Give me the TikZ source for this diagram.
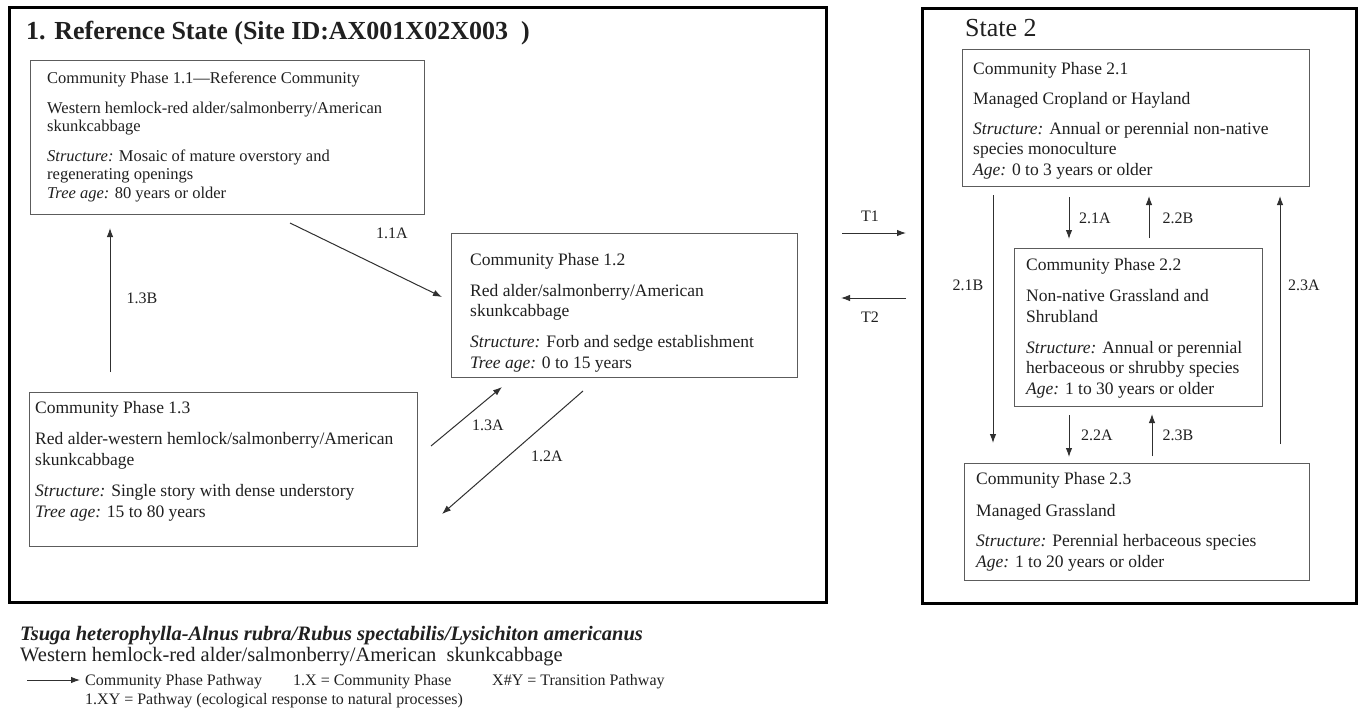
\documentclass[tikz,border=0pt]{standalone}
\usepackage{fontspec}
\setmainfont{Liberation Serif}
\usepackage{tikz}
\usetikzlibrary{positioning, arrows.meta, calc}

\definecolor{framegray}{HTML}{5C5C5C}
\definecolor{inkgray}{HTML}{202020}
\definecolor{arrowgray}{HTML}{303030}

\newcommand{\boxfont}{\fontsize{17.5}{20.5}\selectfont}
\newcommand{\titlefont}{\fontsize{26}{30}\selectfont}
\newcommand{\keyfont}{\fontsize{20.5}{21}\selectfont}
\newcommand{\legendfont}{\fontsize{16}{19}\selectfont}

\begin{document}
\begin{tikzpicture}[
    x=1pt, y=-1pt,
    statebox/.style={draw=black, line width=3pt, anchor=north west, inner sep=0pt},
    phase/.style 2 args={draw=framegray, line width=1.3pt, anchor=north west,
        inner sep=0pt, minimum width=#1, minimum height=#2},
    phasetext/.style={anchor=base west, inner sep=0pt, align=left,
        font=\boxfont, text=inkgray},
    pathway/.style={-{Latex[length=9pt,width=6.5pt]}, line width=1pt, draw=arrowgray},
    lbl/.style={font=\fontsize{16}{18}\selectfont, text=inkgray, inner sep=0pt}
]
    \useasboundingbox[fill=white] (0,0) rectangle (1358,717);

    % State frames
    \node[statebox, minimum width=817pt, minimum height=595pt] (s1) at (8,6) {};
    \node[statebox, minimum width=434pt, minimum height=595pt] (s2) at (921,7) {};
    \node[anchor=base west, inner sep=0pt, font=\titlefont\bfseries, text=inkgray]
        (s1title) at (26,40) {1. Reference State (Site ID:AX001X02X003~~)};
    \node[anchor=base west, inner sep=0pt, font=\titlefont, text=inkgray]
        (s2title) at (965,37) {State 2};

    % Community phases, state 1 (text placed by its last baseline)
    \node[phase={394pt}{154pt}] (p11) at (30,60) {};
    \node[phasetext, font=\fontsize{16.5}{18.5}\selectfont] (p11t) at (47,198)
        {Community Phase 1.1—Reference Community\\[11pt]
         Western hemlock-red alder/salmonberry/American\\
         skunkcabbage\\[11pt]
         \textit{Structure:} Mosaic of mature overstory and\\
         regenerating openings\\
         \textit{Tree age:} 80 years or older};

    \node[phase={346pt}{144pt}] (p12) at (451,233) {};
    \node[phasetext] (p12t) at (470,368)
        {Community Phase 1.2\\[10.5pt]
         Red alder/salmonberry/American\\
         skunkcabbage\\[10.5pt]
         \textit{Structure:} Forb and sedge establishment\\
         \textit{Tree age:} 0 to 15 years};

    \node[phase={388pt}{154pt}] (p13) at (29,392) {};
    \node[phasetext] (p13t) at (35,517)
        {Community Phase 1.3\\[11pt]
         Red alder-western hemlock/salmonberry/American\\
         skunkcabbage\\[11pt]
         \textit{Structure:} Single story with dense understory\\
         \textit{Tree age:} 15 to 80 years};

    % Community phases, state 2
    \node[phase={347pt}{137pt}] (p21) at (962,49) {};
    \node[phasetext] (p21t) at (973,175)
        {Community Phase 2.1\\[9.5pt]
         Managed Cropland or Hayland\\[9.5pt]
         \textit{Structure:} Annual or perennial non-native\\
         species monoculture\\
         \textit{Age:} 0 to 3 years or older};

    \node[phase={248pt}{158pt}] (p22) at (1014,248) {};
    \node[phasetext] (p22t) at (1026,394)
        {Community Phase 2.2\\[10.5pt]
         Non-native Grassland and\\
         Shrubland\\[10.5pt]
         \textit{Structure:} Annual or perennial\\
         herbaceous or shrubby species\\
         \textit{Age:} 1 to 30 years or older};

    \node[phase={345pt}{117pt}] (p23) at (964,463) {};
    \node[phasetext] (p23t) at (976,567)
        {Community Phase 2.3\\[11pt]
         Managed Grassland\\[10pt]
         \textit{Structure:} Perennial herbaceous species\\
         \textit{Age:} 1 to 20 years or older};

    % Arrow ends
    \coordinate (a11a-s) at (290,223);  \coordinate (a11a-e) at (442,297);
    \coordinate (a13b-s) at (110,372);  \coordinate (a13b-e) at (110,228);
    \coordinate (a13a-s) at (431,446);  \coordinate (a13a-e) at (502,387);
    \coordinate (a12a-s) at (583,391);  \coordinate (a12a-e) at (442,514);
    \coordinate (t1-s) at (842,233);    \coordinate (t1-e) at (906,233);
    \coordinate (t2-s) at (906,298);    \coordinate (t2-e) at (841,298);
    \coordinate (a21a-s) at (1069,197); \coordinate (a21a-e) at (1069,239);
    \coordinate (a22b-s) at (1149,238); \coordinate (a22b-e) at (1149,196);
    \coordinate (a21b-s) at (993,195);  \coordinate (a21b-e) at (993,443);
    \coordinate (a23a-s) at (1280,444); \coordinate (a23a-e) at (1280,196);
    \coordinate (a22a-s) at (1069,415); \coordinate (a22a-e) at (1069,457);
    \coordinate (a23b-s) at (1152,456); \coordinate (a23b-e) at (1152,414);

    % Pathways
    \draw[pathway] (a11a-s) -- (a11a-e);
    \draw[pathway] (a13b-s) -- (a13b-e);
    \draw[pathway] (a13a-s) -- (a13a-e);
    \draw[pathway] (a12a-s) -- (a12a-e);
    \draw[pathway] (t1-s) -- (t1-e);
    \draw[pathway] (t2-s) -- (t2-e);
    \draw[pathway] (a21a-s) -- (a21a-e);
    \draw[pathway] (a22b-s) -- (a22b-e);
    \draw[pathway] (a21b-s) -- (a21b-e);
    \draw[pathway] (a23a-s) -- (a23a-e);
    \draw[pathway] (a22a-s) -- (a22a-e);
    \draw[pathway] (a23b-s) -- (a23b-e);

    % Labels
    \node[lbl] (l11a) at (392,233) {1.1A};
    \node[lbl] (l13b) at (142,298) {1.3B};
    \node[lbl] (l13a) at (488,425) {1.3A};
    \node[lbl] (l12a) at (547,456) {1.2A};
    \node[lbl] (lt1) at (870,216) {T1};
    \node[lbl] (lt2) at (870,317) {T2};
    \node[lbl] (l21a) at (1095,218) {2.1A};
    \node[lbl] (l22b) at (1178,218) {2.2B};
    \node[lbl] (l21b) at (968,285) {2.1B};
    \node[lbl] (l23a) at (1304,285) {2.3A};
    \node[lbl] (l22a) at (1097,435) {2.2A};
    \node[lbl] (l23b) at (1178,435) {2.3B};

    % Key
    \node[anchor=base west, inner sep=0pt, font=\keyfont\bfseries\itshape, text=inkgray]
        (latin) at (20,640) {Tsuga heterophylla-Alnus rubra/Rubus spectabilis/Lysichiton americanus};
    \node[anchor=base west, inner sep=0pt, font=\keyfont, text=inkgray]
        (common) at (20,661) {Western hemlock-red alder/salmonberry/American~~skunkcabbage};
    \coordinate (key-s) at (27,680);
    \coordinate (key-e) at (80,680);
    \draw[pathway] (key-s) -- (key-e);
    \node[anchor=base west, inner sep=0pt, font=\legendfont, text=inkgray]
        (k1) at (85,685) {Community Phase Pathway};
    \node[anchor=base west, inner sep=0pt, font=\legendfont, text=inkgray]
        (k2) at (293,685) {1.X = Community Phase};
    \node[anchor=base west, inner sep=0pt, font=\legendfont, text=inkgray]
        (k3) at (492,685) {X\#Y = Transition Pathway};
    \node[anchor=base west, inner sep=0pt, font=\legendfont, text=inkgray]
        (k4) at (85,704) {1.XY = Pathway (ecological response to natural processes)};
\end{tikzpicture}
\end{document}
